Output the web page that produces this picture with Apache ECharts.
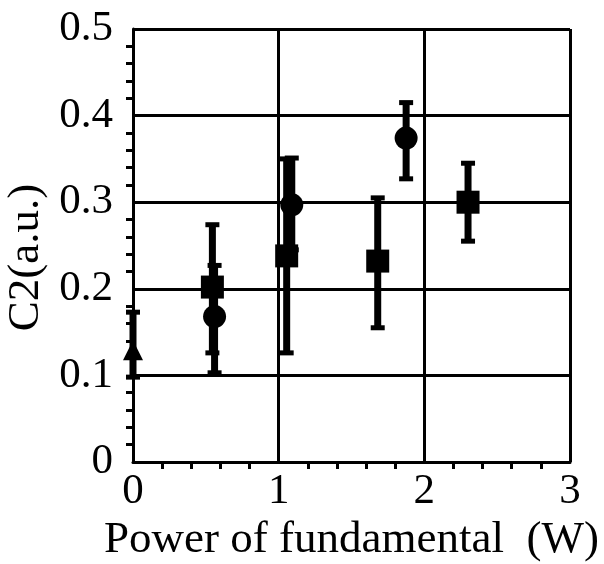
<!DOCTYPE html>
<html>
<head>
<meta charset="utf-8">
<script src="https://cdn.jsdelivr.net/npm/echarts@6/dist/echarts.min.js"></script>
<style>html,body{margin:0;padding:0;background:#fff}#c{width:604px;height:564px}</style>
</head>
<body>
<div id="c"></div>
<script>
// Squares: x, y, err low, err high
var squareX = [0.545, 1.055, 1.68, 2.30];
var squareY = [0.202, 0.238, 0.232, 0.300];
var squareLo = [0.126, 0.126, 0.155, 0.255];
var squareHi = [0.274, 0.350, 0.305, 0.345];
// Circles
var circleX = [0.56, 1.09, 1.875];
var circleY = [0.168, 0.297, 0.374];
var circleLo = [0.103, 0.245, 0.327];
var circleHi = [0.227, 0.351, 0.415];
// Triangles
var triX = [0.0];
var triY = [0.129];
var triLo = [0.098];
var triHi = [0.173];

var xTicks = [0, 1, 2, 3];
var yTicks = [0, 0.1, 0.2, 0.3, 0.4, 0.5];

function pts(xs, ys) { return xs.map(function (x, i) { return [x, ys[i]]; }); }
function errs(xs, lo, hi) { return xs.map(function (x, i) { return [x, lo[i], hi[i]]; }); }

var errData = errs(squareX, squareLo, squareHi)
  .concat(errs(circleX, circleLo, circleHi))
  .concat(errs(triX, triLo, triHi));

function renderErr(params, api) {
  var x = api.value(0), lo = api.value(1), hi = api.value(2);
  var pLo = api.coord([x, lo]), pHi = api.coord([x, hi]);
  var capW = 14, capH = 5, barW = 7;
  var st = { fill: '#000', stroke: null };
  return {
    type: 'group',
    children: [
      { type: 'rect', shape: { x: pLo[0] - barW / 2, y: pHi[1], width: barW, height: pLo[1] - pHi[1] }, style: st },
      { type: 'rect', shape: { x: pHi[0] - capW / 2, y: pHi[1] - capH / 2, width: capW, height: capH }, style: st },
      { type: 'rect', shape: { x: pLo[0] - capW / 2, y: pLo[1] - capH / 2, width: capW, height: capH }, style: st }
    ]
  };
}

var font = 'Liberation Serif';
var chart = echarts.init(document.getElementById('c'), null, { renderer: 'canvas' });
chart.setOption({
  animation: false,
  backgroundColor: '#fff',
  grid: { left: 133, right: 34, top: 29, bottom: 102, show: false, containLabel: false, outerBoundsMode: 'none' },
  xAxis: {
    type: 'value', min: xTicks[0], max: xTicks[xTicks.length - 1], interval: 1,
    name: 'Power of fundamental  (W)', nameLocation: 'middle', nameGap: 53,
    nameTextStyle: { fontFamily: font, fontSize: 45, color: '#000' },
    axisLine: { show: true, lineStyle: { color: '#000', width: 3 } },
    axisTick: { show: false },
    minorTick: { show: true, splitNumber: 5, length: 7, lineStyle: { color: '#000', width: 3 } },
    axisLabel: { fontFamily: font, fontSize: 43, color: '#000', margin: 8 },
    splitLine: { show: true, lineStyle: { color: '#000', width: 3 } }
  },
  yAxis: {
    type: 'value', min: yTicks[0], max: yTicks[yTicks.length - 1], interval: 0.1,
    name: 'C2(a.u.)', nameLocation: 'middle', nameGap: 80,
    nameTextStyle: { fontFamily: font, fontSize: 45, color: '#000', padding: [0, 24, 0, 0] },
    axisLine: { show: true, lineStyle: { color: '#000', width: 3 } },
    axisTick: { show: false },
    minorTick: { show: true, splitNumber: 5, length: 7, lineStyle: { color: '#000', width: 3 } },
    axisLabel: { fontFamily: font, fontSize: 43, color: '#000', margin: 20,
      formatter: function (v) { return v === 0 ? '0' : v.toFixed(1); } },
    splitLine: { show: true, lineStyle: { color: '#000', width: 3 } }
  },
  series: [
    { type: 'custom', renderItem: renderErr, data: errData, z: 2, encode: { x: 0, y: [1, 2] } },
    { type: 'scatter', symbol: 'rect', symbolSize: 23, data: pts(squareX, squareY), itemStyle: { color: '#000', opacity: 1 }, z: 3 },
    { type: 'scatter', symbol: 'circle', symbolSize: 23, data: pts(circleX, circleY), itemStyle: { color: '#000', opacity: 1 }, z: 3 },
    { type: 'scatter', symbol: 'triangle', symbolSize: 20, data: pts(triX, triY), itemStyle: { color: '#000', opacity: 1 }, z: 3 }
  ]
});
</script>
</body>
</html>
